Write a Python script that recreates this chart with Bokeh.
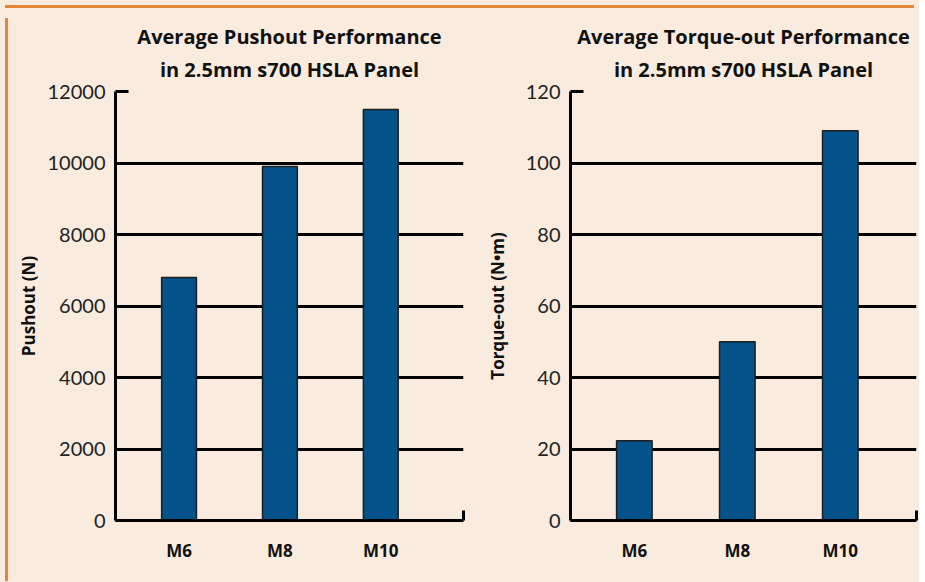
from bokeh.plotting import figure
from bokeh.layouts import row, column
from bokeh.models import FixedTicker, Range1d, LinearAxis, ColumnDataSource, Title, Div
from bokeh.embed import file_html
from bokeh.resources import INLINE

categories = ["M6", "M8", "M10"]
pushout_n = [6800, 9900, 11500]
torque_nm = [22.3, 50, 109]

push_ticks = [0, 2000, 4000, 6000, 8000, 10000, 12000]
torque_ticks = [0, 20, 40, 60, 80, 100, 120]

BG = "#F9EBDE"
BAR = "#03538A"
ORANGE = "#E4873A"


def make_panel(title_lines, ylabel, values, yticks, width, mbl, mbr, xstart, xend, lab_standoff):
    ymax = yticks[-1]
    p = figure(width=width, height=563, output_backend="svg", toolbar_location=None,
               x_range=Range1d(xstart, xend), y_range=Range1d(0, ymax), title=None,
               min_border_left=mbl, min_border_right=mbr, min_border_top=78,
               min_border_bottom=56, background_fill_color=BG, border_fill_color=BG)
    p.outline_line_color = None
    idx = list(range(len(categories)))
    src = ColumnDataSource(dict(x=idx, v=values, cat=categories))
    p.vbar(x="x", top="v", width=0.345, source=src, fill_color=BAR,
           line_color="#1E1E1E", line_width=1.5)

    line1, line2 = title_lines
    p.add_layout(Title(text=line2, align="center", text_font="Open Sans", text_font_style="bold",
                       text_font_size="20px", text_color="#111111",
                       standoff=17), "above")
    p.add_layout(Title(text=line1, align="center", text_font="Open Sans", text_font_style="bold",
                       text_font_size="20px", text_color="#111111",
                       standoff=-8), "above")

    # x axis
    xa = p.xaxis[0]
    xa.ticker = FixedTicker(ticks=idx)
    xa.major_label_overrides = {i: c for i, c in zip(idx, categories)}
    xa.major_tick_in = 0
    xa.major_tick_out = 0
    xa.minor_tick_line_color = None
    xa.axis_line_width = 3
    xa.axis_line_color = "black"
    xa.major_label_text_font = "Open Sans"
    xa.major_label_text_font_style = "bold"
    xa.major_label_text_font_size = "17px"
    xa.major_label_text_color = "#111111"
    xa.major_label_standoff = 18

    # y axis
    ya = p.yaxis[0]
    ya.ticker = FixedTicker(ticks=yticks)
    ya.major_tick_in = 13
    ya.major_tick_out = 0
    ya.major_tick_line_width = 3
    ya.major_tick_line_color = "black"
    ya.minor_tick_line_color = None
    ya.axis_line_width = 3
    ya.axis_line_color = "black"
    ya.major_label_text_font = "Lato"
    ya.major_label_text_font_size = "20px"
    ya.major_label_text_color = "#222222"
    ya.major_label_standoff = 10
    ya.axis_label = ylabel
    ya.axis_label_text_font = "Open Sans"
    ya.axis_label_text_font_style = "bold"
    ya.axis_label_text_font_size = "17px"
    ya.axis_label_text_color = "#111111"
    ya.axis_label_standoff = lab_standoff

    # grid
    p.xgrid.grid_line_color = None
    p.ygrid.ticker = FixedTicker(ticks=yticks[1:-1])
    p.ygrid.grid_line_color = "black"
    p.ygrid.grid_line_width = 3

    # short end mark at the right end of the x axis
    end_mark = LinearAxis(ticker=FixedTicker(ticks=[]), bounds=(0, ymax * 10 / 429),
                          axis_line_width=3, axis_line_color="black",
                          major_tick_in=0, major_tick_out=0, minor_tick_line_color=None,
                          major_label_standoff=0, axis_label_standoff=0)
    p.add_layout(end_mark, "right")
    return p


p1 = make_panel(["Average Pushout Performance", "in 2.5mm s700 HSLA Panel"], "Pushout (N)",
                pushout_n, push_ticks, 459, 100, 9, -0.63, 2.82, 5)
p2 = make_panel(["Average Torque-out Performance", "in 2.5mm s700 HSLA Panel"], "Torque-out (N\u2022m)",
                torque_nm, torque_ticks, 447, 98, 3, -0.62, 2.74, 14)

top_bar = Div(text="", width=909, height=3, styles={"background-color": ORANGE})
left_bar = Div(text="", width=3, height=563, styles={"background-color": ORANGE})

layout = column(top_bar,
                row(left_bar, p1, p2, spacing=0, styles={"background-color": BG}),
                spacing=0, styles={"background-color": BG})

open("out.html", "w").write(file_html(layout, INLINE))
